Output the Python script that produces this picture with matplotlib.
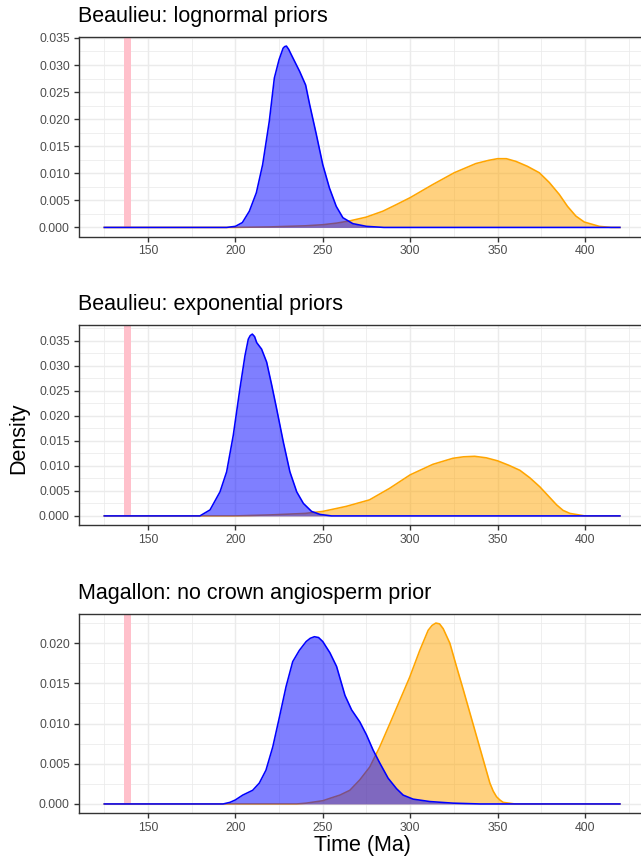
import matplotlib
matplotlib.use("Agg")
import matplotlib.pyplot as plt
from matplotlib.ticker import MultipleLocator, FormatStrFormatter

plt.rcParams['font.family'] = ['Liberation Sans', 'DejaVu Sans']

# ---------------- data ----------------
titles = ["Beaulieu: lognormal priors",
          "Beaulieu: exponential priors",
          "Magallon: no crown angiosperm prior"]

crown_age_band = [136.3, 140.0]   # pink band (Ma)

# Panel 1
p1_blue_x = [125, 195, 200, 204, 208, 212, 215.6, 219.4, 222.3, 225, 227.3, 228.2, 229.2,
             230.5, 232, 236.8, 240.2, 242.5, 246.3, 250, 253.8, 257.7, 261.5, 267.2, 275,
             285, 420]
p1_blue_y = [0, 0, 0.0002, 0.0009, 0.003, 0.0064, 0.0116, 0.0196, 0.0276, 0.031, 0.0331,
             0.0334, 0.0335, 0.0329, 0.0319, 0.0288, 0.0263, 0.0227, 0.0172, 0.0116, 0.0073,
             0.0039, 0.0018, 0.0007, 0.0002, 0, 0]
p1_orange_x = [125, 200, 220, 240, 250, 258, 265.3, 274.8, 284.4, 292, 300, 312.8, 325.2,
               337.6, 345, 350, 355, 360.5, 367, 373.9, 379.6, 385.3, 390, 394.8, 399.6,
               408.2, 415, 420]
p1_orange_y = [0, 0, 0.0001, 0.0003, 0.0005, 0.0008, 0.0012, 0.0019, 0.003, 0.0042, 0.0055,
               0.0079, 0.0101, 0.0118, 0.0124, 0.0127, 0.0127, 0.0122, 0.0113, 0.0101,
               0.0083, 0.0061, 0.0039, 0.0021, 0.001, 0.0002, 0, 0]

# Panel 2
p2_blue_x = [125, 179.7, 185.5, 191.2, 195, 198.8, 202.6, 205.5, 207.4, 208.5, 209.7, 211,
             212.2, 215, 217.9, 220.8, 223.6, 227.4, 231.2, 235.1, 238.9, 243.6, 248.4, 255,
             420]
p2_blue_y = [0, 0, 0.0012, 0.0048, 0.0088, 0.0161, 0.0254, 0.032, 0.0353, 0.036, 0.0363,
             0.0358, 0.0346, 0.0333, 0.0307, 0.0261, 0.0214, 0.0148, 0.0088, 0.0048, 0.0025,
             0.0009, 0.0003, 0, 0]
p2_orange_x = [125, 200, 220, 240, 250, 263.4, 276.7, 288.2, 300, 313, 324.4, 330.5, 336.9,
               343.5, 350, 356.5, 362.8, 368.5, 374.2, 379, 383.8, 387.5, 391.4, 400, 420]
p2_orange_y = [0, 0, 0.0002, 0.0005, 0.0009, 0.0019, 0.0032, 0.0055, 0.0082, 0.0103, 0.0115,
               0.0118, 0.0119, 0.0116, 0.011, 0.0101, 0.0091, 0.0076, 0.0058, 0.004, 0.0022,
               0.0011, 0.0005, 0, 0]

# Panel 3
p3_blue_x = [125, 193, 196.9, 200, 204.2, 209.9, 213.7, 217.5, 221.4, 225.2, 229, 232.8,
             236.6, 240.5, 242.8, 245.2, 247.6, 250, 254.1, 257.9, 262.7, 266.5, 271.2, 275,
             278.8, 282.6, 287.4, 292.2, 296, 301.7, 311.2, 324.6, 340, 420]
p3_blue_y = [0, 0, 0.0002, 0.0005, 0.0011, 0.0017, 0.0026, 0.0042, 0.0071, 0.0108, 0.0146,
             0.0177, 0.0191, 0.0202, 0.0206, 0.0208, 0.0207, 0.0202, 0.0188, 0.0171, 0.0135,
             0.0117, 0.0102, 0.0086, 0.0067, 0.0051, 0.0032, 0.0019, 0.0011, 0.0006, 0.0003,
             0.0001, 0, 0]
p3_orange_x = [125, 235, 240.5, 250, 254.1, 259.8, 265.5, 271.2, 276.9, 282.6, 288.4, 294.1,
               299.8, 305.5, 310.3, 312.5, 314.7, 316.8, 318.9, 322.7, 326.5, 330.4, 334.2,
               338, 341.8, 345.6, 347.5, 349.4, 351.3, 353.2, 360, 420]
p3_orange_y = [0, 0, 0.0001, 0.0004, 0.0007, 0.0011, 0.0017, 0.003, 0.0046, 0.0071, 0.01,
               0.0129, 0.0158, 0.0191, 0.0216, 0.0222, 0.0225, 0.0224, 0.0218, 0.02, 0.0171,
               0.0142, 0.0113, 0.0084, 0.0055, 0.0026, 0.0016, 0.0009, 0.0005, 0.0002, 0, 0]

x_ticks = [150, 200, 250, 300, 350, 400]

panels = [
    (titles[0], p1_blue_x, p1_blue_y, p1_orange_x, p1_orange_y),
    (titles[1], p2_blue_x, p2_blue_y, p2_orange_x, p2_orange_y),
    (titles[2], p3_blue_x, p3_blue_y, p3_orange_x, p3_orange_y),
]

# ---------------- figure ----------------
W, H = 641, 857
fig = plt.figure(figsize=(W / 100, H / 100), dpi=100)

rects = [(78.5, 37, 645.7, 236.5), (78.5, 325, 645.7, 525), (78.5, 614, 645.7, 813)]

grey20 = "#333333"
grey30 = "#4D4D4D"
grid_col = "#EBEBEB"

for (title, bx, by, ox, oy), (l, t, r, b) in zip(panels, rects):
    ax = fig.add_axes([l / W, 1 - b / H, (r - l) / W, (b - t) / H])
    xmin = min(bx[0], ox[0]); xmax = max(bx[-1], ox[-1])
    xr = xmax - xmin
    ax.set_xlim(xmin - 0.05 * xr, xmax + 0.05 * xr)
    ymax = max(max(by), max(oy))
    ax.set_ylim(-0.05 * ymax, ymax * 1.05)

    # grid
    ax.xaxis.set_major_locator(MultipleLocator(50))
    ax.xaxis.set_minor_locator(MultipleLocator(25))
    ax.yaxis.set_major_locator(MultipleLocator(0.005))
    ax.yaxis.set_minor_locator(MultipleLocator(0.0025))
    ax.yaxis.set_major_formatter(FormatStrFormatter('%.3f'))
    ax.grid(True, which='major', color=grid_col, linewidth=1.07, zorder=0)
    ax.grid(True, which='minor', color=grid_col, linewidth=0.55, zorder=0)
    ax.set_axisbelow(True)

    # pink band from 0 to top
    y0, y1 = ax.get_ylim()
    ax.axvspan(crown_age_band[0], crown_age_band[1], ymin=(0 - y0) / (y1 - y0), ymax=1,
               color="pink", linewidth=0, zorder=1)

    # densities
    ax.fill_between(ox, oy, 0, color="orange", alpha=0.5, linewidth=0, zorder=2)
    ax.plot(ox, oy, color="orange", linewidth=1.15, zorder=3, solid_joinstyle='round')
    ax.fill_between(bx, by, 0, color="blue", alpha=0.5, linewidth=0, zorder=4)
    ax.plot(bx, by, color="blue", linewidth=1.15, zorder=5, solid_joinstyle='round')

    ax.set_xticks(x_ticks)
    ax.tick_params(which='major', direction='out', length=3.8, width=1.0, color=grey20,
                   labelsize=8.8, labelcolor=grey30, pad=2.5)
    ax.tick_params(which='minor', length=0)
    for s in ax.spines.values():
        s.set_color(grey20)
        s.set_linewidth(1.0)

    ax.set_title(title, loc='left', fontsize=15.5, pad=10.5, color='black')

fig.text(18.5 / W, 1 - 438 / H, "Density", rotation=90, ha='center', va='center', fontsize=15.5)
fig.text(362 / W, 1 - 845 / H, "Time (Ma)", ha='center', va='center', fontsize=15.5)

fig.savefig("out.png", dpi=100)
